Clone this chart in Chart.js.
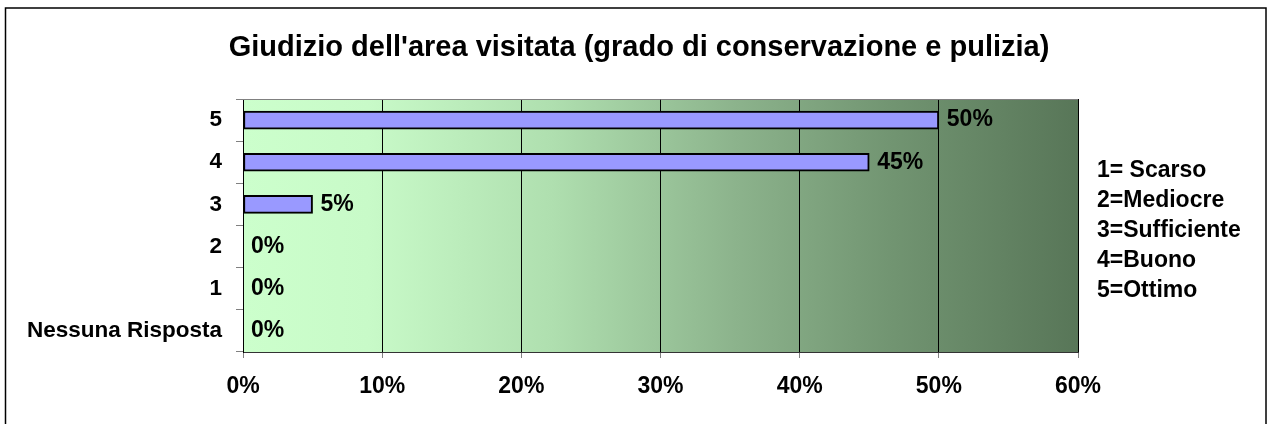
<!DOCTYPE html>
<html>
<head>
<meta charset="utf-8">
<script src="https://cdn.jsdelivr.net/npm/chart.js@4"></script>
<style>
  html, body { margin: 0; padding: 0; background: #fff; }
  #wrap { width: 1270px; height: 424px; position: relative; }
</style>
</head>
<body>
<div id="wrap"><canvas id="chartCanvas"></canvas></div>
<script>
const categories = ['5', '4', '3', '2', '1', 'Nessuna Risposta'];
const percentages = [50, 45, 5, 0, 0, 0];
const legendLines = ['1= Scarso', '2=Mediocre', '3=Sufficiente', '4=Buono', '5=Ottimo'];
const chartTitle = "Giudizio dell'area visitata (grado di conservazione e pulizia)";

const fontFamily = "'Liberation Sans', Arial, sans-serif";

// gradient background of the plot area, outer frame, title and side legend text
const backgroundPlugin = {
  id: 'plotBackground',
  beforeDraw: (chart) => {
    const ctx = chart.ctx;
    const a = chart.chartArea;
    ctx.save();
    ctx.fillStyle = '#ffffff';
    ctx.fillRect(0, 0, chart.width, chart.height);
    const g = ctx.createLinearGradient(a.left, 0, a.right, 0);
    g.addColorStop(0, '#ccffcc');
    g.addColorStop(0.15, '#c8fac8');
    g.addColorStop(0.37, '#afdfaf');
    g.addColorStop(0.59, '#8cb38c');
    g.addColorStop(0.78, '#719471');
    g.addColorStop(1, '#587658');
    ctx.fillStyle = g;
    ctx.fillRect(a.left, a.top, a.right - a.left, a.bottom - a.top);
    ctx.strokeStyle = '#000000';
    ctx.lineWidth = 1.5;
    ctx.strokeRect(5.5, 8, 1260.5, 430);
    ctx.restore();
  },
  afterDraw: (chart) => {
    const ctx = chart.ctx;
    const a = chart.chartArea;
    ctx.save();
    ctx.strokeStyle = '#808080';
    ctx.lineWidth = 1;
    ctx.beginPath();
    ctx.moveTo(a.left, a.top + 0.5);
    ctx.lineTo(a.right, a.top + 0.5);
    ctx.stroke();
    ctx.fillStyle = '#000000';
    ctx.textBaseline = 'middle';
    // title
    ctx.font = 'bold 29px ' + fontFamily;
    ctx.textAlign = 'center';
    ctx.fillText(chartTitle, 639, 48);
    // legend text on the right
    ctx.font = 'bold 23px ' + fontFamily;
    ctx.textAlign = 'left';
    legendLines.forEach((line, i) => {
      ctx.fillText(line, 1097, 171 + i * 30);
    });
    ctx.restore();
  }
};

// value labels at the end of each bar
const valueLabelPlugin = {
  id: 'valueLabels',
  afterDatasetsDraw: (chart) => {
    const ctx = chart.ctx;
    const meta = chart.getDatasetMeta(0);
    ctx.save();
    ctx.fillStyle = '#000000';
    ctx.font = 'bold 23px ' + fontFamily;
    ctx.textAlign = 'left';
    ctx.textBaseline = 'middle';
    meta.data.forEach((bar, i) => {
      ctx.fillText(percentages[i] + '%', bar.x + 8, bar.y);
    });
    ctx.restore();
  }
};

const config = {
  type: 'bar',
  data: {
    labels: categories,
    datasets: [
      {
        data: percentages,
        backgroundColor: '#9999ff',
        borderColor: '#000000',
        borderWidth: 2,
        borderSkipped: false,
        barThickness: 18
      }
    ]
  },
  options: {
    indexAxis: 'y',
    responsive: true,
    maintainAspectRatio: false,
    animation: false,
    layout: {
      padding: { left: 0, right: 192, top: 99, bottom: 0 }
    },
    plugins: {
      legend: { display: false },
      tooltip: { enabled: false },
      title: { display: false }
    },
    scales: {
      x: {
        min: 0,
        max: 60,
        afterFit: (scale) => { scale.height = 72; },
        ticks: {
          stepSize: 10,
          color: '#000000',
          padding: 15,
          font: { family: fontFamily, size: 23, weight: 'bold' },
          callback: (value) => value + '%'
        },
        grid: {
          color: '#000000',
          lineWidth: 1,
          tickColor: '#808080',
          tickLength: 6
        },
        border: { display: true, color: '#333333', width: 1 }
      },
      y: {
        afterFit: (scale) => { scale.width = 243; },
        ticks: {
          color: '#000000',
          padding: 14,
          font: { family: fontFamily, size: 22.5, weight: 'bold' }
        },
        grid: {
          offset: true,
          drawOnChartArea: false,
          color: '#808080',
          tickLength: 7
        },
        border: { display: true, color: '#000000', width: 1 }
      }
    }
  },
  plugins: [backgroundPlugin, valueLabelPlugin]
};

const myChart = new Chart(document.getElementById('chartCanvas'), config);
</script>
</body>
</html>
